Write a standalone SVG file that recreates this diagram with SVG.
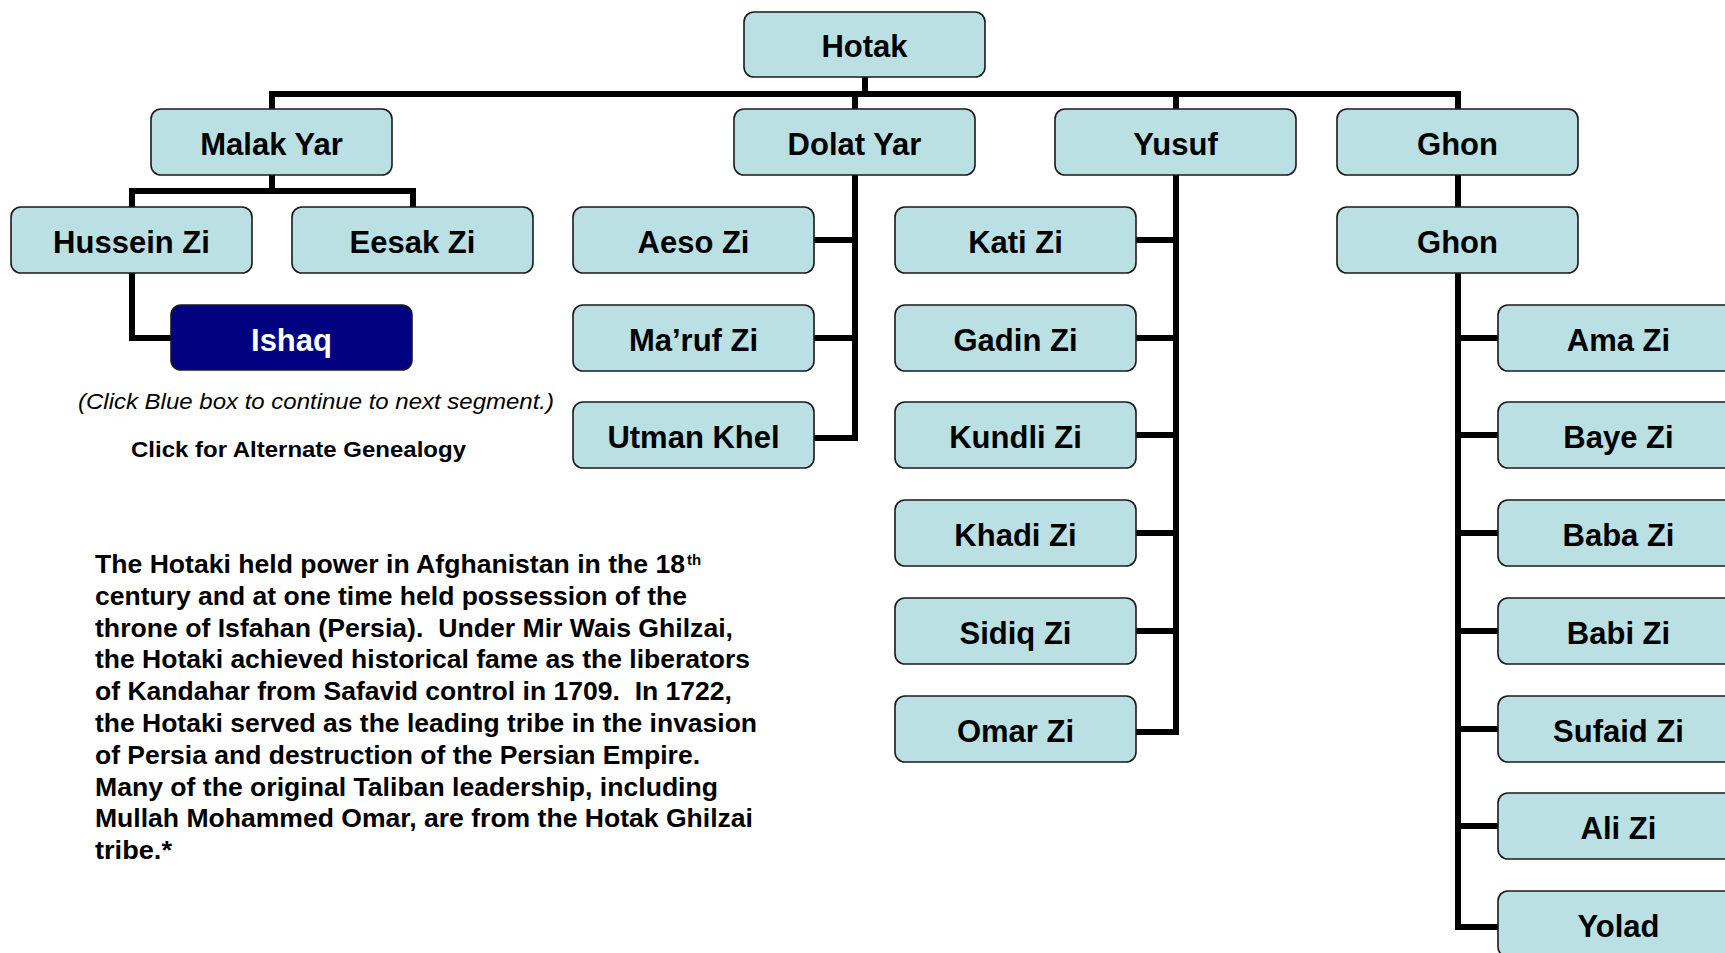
<svg xmlns="http://www.w3.org/2000/svg" width="1725" height="953" viewBox="0 0 1725 953">
<style>
.bx{fill:#BBE0E3;stroke:#1a1a1a;stroke-width:1.6}
.nv{fill:#000080;stroke:#1a1a1a;stroke-width:1.6}
.lbl{font-family:"Liberation Sans",Arial,sans-serif;font-weight:bold;font-size:31px;text-anchor:middle;fill:#000}
.wl{fill:#fff}
.conn{fill:none;stroke:#000;stroke-width:6;stroke-linejoin:miter;stroke-linecap:butt}
.para{font-family:"Liberation Sans",Arial,sans-serif;font-weight:bold;font-size:26px;fill:#000}
</style>
<rect x="0" y="0" width="1725" height="953" fill="#fff"/>
<g id="connectors" class="conn">
<path d="M272,109 V94 H1461 M1458,94 V109"/>
<path d="M865,77 V94"/>
<path d="M855,94 V109"/>
<path d="M1176,94 V109"/>
<path d="M272,175 V191 M129,191 H416 M132,191 V207 M413,191 V207"/>
<path d="M132,273 V338 H171"/>
<path d="M855,175 V438 H814 M814,240 H855 M814,338 H855"/>
<path d="M1176,175 V732 H1136 M1136,240 H1176 M1136,338 H1176 M1136,435 H1176 M1136,533 H1176 M1136,631 H1176"/>
<path d="M1458,175 V207"/>
<path d="M1458,273 V927 H1498 M1458,338 H1498 M1458,435 H1498 M1458,533 H1498 M1458,631 H1498 M1458,729 H1498 M1458,826 H1498"/>
</g>
<g id="hotak"><rect class="bx" x="744" y="12" width="241" height="65" rx="10"/><text class="lbl" x="864.5" y="57">Hotak</text></g>
<g id="malak-yar"><rect class="bx" x="151" y="109" width="241" height="66" rx="10"/><text class="lbl" x="271.5" y="155">Malak Yar</text></g>
<g id="dolat-yar"><rect class="bx" x="734" y="109" width="241" height="66" rx="10"/><text class="lbl" x="854.5" y="155">Dolat Yar</text></g>
<g id="yusuf"><rect class="bx" x="1055" y="109" width="241" height="66" rx="10"/><text class="lbl" x="1175.5" y="155">Yusuf</text></g>
<g id="ghon"><rect class="bx" x="1337" y="109" width="241" height="66" rx="10"/><text class="lbl" x="1457.5" y="155">Ghon</text></g>
<g id="hussein-zi"><rect class="bx" x="11" y="207" width="241" height="66" rx="10"/><text class="lbl" x="131.5" y="253">Hussein Zi</text></g>
<g id="eesak-zi"><rect class="bx" x="292" y="207" width="241" height="66" rx="10"/><text class="lbl" x="412.5" y="253">Eesak Zi</text></g>
<g id="ishaq"><rect class="nv" x="171" y="305" width="241" height="65" rx="10"/><text class="lbl wl" x="291.5" y="351">Ishaq</text></g>
<g id="aeso-zi"><rect class="bx" x="573" y="207" width="241" height="66" rx="10"/><text class="lbl" x="693.5" y="253">Aeso Zi</text></g>
<g id="maruf-zi"><rect class="bx" x="573" y="305" width="241" height="66" rx="10"/><text class="lbl" x="693.5" y="351">Ma’ruf Zi</text></g>
<g id="utman-khel"><rect class="bx" x="573" y="402" width="241" height="66" rx="10"/><text class="lbl" x="693.5" y="448">Utman Khel</text></g>
<g id="kati-zi"><rect class="bx" x="895" y="207" width="241" height="66" rx="10"/><text class="lbl" x="1015.5" y="253">Kati Zi</text></g>
<g id="gadin-zi"><rect class="bx" x="895" y="305" width="241" height="66" rx="10"/><text class="lbl" x="1015.5" y="351">Gadin Zi</text></g>
<g id="kundli-zi"><rect class="bx" x="895" y="402" width="241" height="66" rx="10"/><text class="lbl" x="1015.5" y="448">Kundli Zi</text></g>
<g id="khadi-zi"><rect class="bx" x="895" y="500" width="241" height="66" rx="10"/><text class="lbl" x="1015.5" y="546">Khadi Zi</text></g>
<g id="sidiq-zi"><rect class="bx" x="895" y="598" width="241" height="66" rx="10"/><text class="lbl" x="1015.5" y="644">Sidiq Zi</text></g>
<g id="omar-zi"><rect class="bx" x="895" y="696" width="241" height="66" rx="10"/><text class="lbl" x="1015.5" y="742">Omar Zi</text></g>
<g id="ghon-2"><rect class="bx" x="1337" y="207" width="241" height="66" rx="10"/><text class="lbl" x="1457.5" y="253">Ghon</text></g>
<g id="ama-zi"><rect class="bx" x="1498" y="305" width="241" height="66" rx="10"/><text class="lbl" x="1618.5" y="351">Ama Zi</text></g>
<g id="baye-zi"><rect class="bx" x="1498" y="402" width="241" height="66" rx="10"/><text class="lbl" x="1618.5" y="448">Baye Zi</text></g>
<g id="baba-zi"><rect class="bx" x="1498" y="500" width="241" height="66" rx="10"/><text class="lbl" x="1618.5" y="546">Baba Zi</text></g>
<g id="babi-zi"><rect class="bx" x="1498" y="598" width="241" height="66" rx="10"/><text class="lbl" x="1618.5" y="644">Babi Zi</text></g>
<g id="sufaid-zi"><rect class="bx" x="1498" y="696" width="241" height="66" rx="10"/><text class="lbl" x="1618.5" y="742">Sufaid Zi</text></g>
<g id="ali-zi"><rect class="bx" x="1498" y="793" width="241" height="66" rx="10"/><text class="lbl" x="1618.5" y="839">Ali Zi</text></g>
<g id="yolad"><rect class="bx" x="1498" y="891" width="241" height="66" rx="10"/><text class="lbl" x="1618.5" y="937">Yolad</text></g>
<g id="notes">
<text x="78" y="409" font-family="'Liberation Sans',Arial,sans-serif" font-style="italic" font-size="22" textLength="476" lengthAdjust="spacingAndGlyphs" fill="#000">(Click Blue box to continue to next segment.)</text>
<text x="131" y="457" font-family="'Liberation Sans',Arial,sans-serif" font-weight="bold" font-size="22" textLength="335" lengthAdjust="spacingAndGlyphs" fill="#000">Click for Alternate Genealogy</text>
</g>
<g id="description" class="para">
<text x="95" y="573" textLength="590" lengthAdjust="spacingAndGlyphs">The Hotaki held power in Afghanistan in the 18</text>
<text x="687" y="565" font-size="15">th</text>
<text x="95" y="605" textLength="592" lengthAdjust="spacingAndGlyphs">century and at one time held possession of the</text>
<text x="95" y="637" textLength="638" lengthAdjust="spacingAndGlyphs" xml:space="preserve">throne of Isfahan (Persia).&#160; Under Mir Wais Ghilzai,</text>
<text x="95" y="668" textLength="655" lengthAdjust="spacingAndGlyphs">the Hotaki achieved historical fame as the liberators</text>
<text x="95" y="700" textLength="637" lengthAdjust="spacingAndGlyphs" xml:space="preserve">of Kandahar from Safavid control in 1709.&#160; In 1722,</text>
<text x="95" y="732" textLength="662" lengthAdjust="spacingAndGlyphs">the Hotaki served as the leading tribe in the invasion</text>
<text x="95" y="764" textLength="605" lengthAdjust="spacingAndGlyphs">of Persia and destruction of the Persian Empire.</text>
<text x="95" y="796" textLength="623" lengthAdjust="spacingAndGlyphs">Many of the original Taliban leadership, including</text>
<text x="95" y="827" textLength="658" lengthAdjust="spacingAndGlyphs">Mullah Mohammed Omar, are from the Hotak Ghilzai</text>
<text x="95" y="859" textLength="77" lengthAdjust="spacingAndGlyphs">tribe.*</text>
</g>
</svg>
